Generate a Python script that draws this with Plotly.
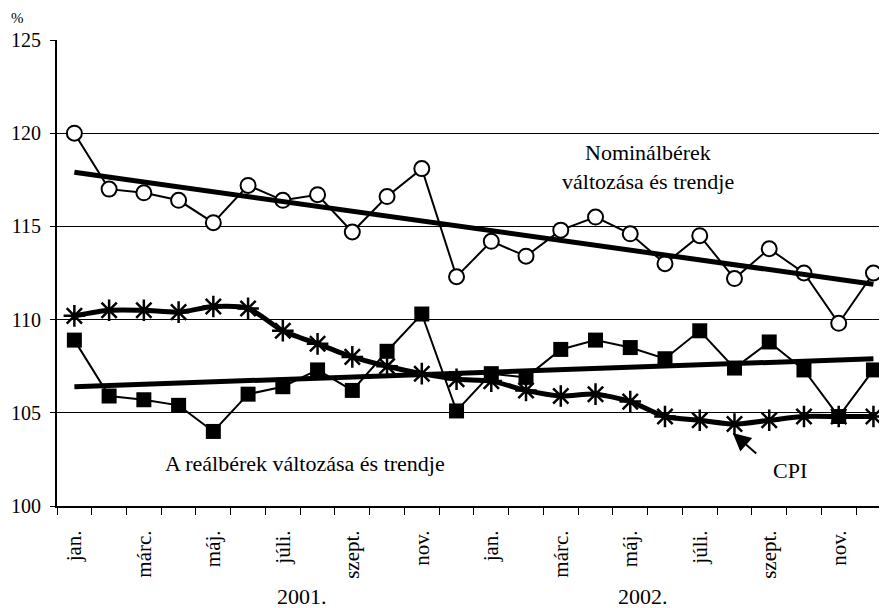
import plotly.graph_objects as go

months_idx = list(range(24))
tick_pos = [0, 2, 4, 6, 8, 10, 12, 14, 16, 18, 20, 22]
tick_labels = ["jan.", "márc.", "máj.", "júli.", "szept.", "nov.",
               "jan.", "márc.", "máj.", "júli.", "szept.", "nov."]
years = ["2001.", "2002."]

nominal = [120.0, 117.0, 116.8, 116.4, 115.2, 117.2, 116.4, 116.7, 114.7, 116.6, 118.1, 112.3,
           114.2, 113.4, 114.8, 115.5, 114.6, 113.0, 114.5, 112.2, 113.8, 112.5, 109.8, 112.5]
real = [108.9, 105.9, 105.7, 105.4, 104.0, 106.0, 106.4, 107.3, 106.2, 108.3, 110.3, 105.1,
        107.1, 106.9, 108.4, 108.9, 108.5, 107.9, 109.4, 107.4, 108.8, 107.3, 104.8, 107.3]
cpi = [110.2, 110.5, 110.5, 110.4, 110.7, 110.6, 109.4, 108.7, 108.0, 107.5, 107.1, 106.8,
       106.7, 106.2, 105.9, 106.0, 105.6, 104.8, 104.6, 104.4, 104.6, 104.8, 104.8, 104.8]
nominal_trend_ends = [117.9, 111.9]
real_trend_ends = [106.4, 107.9]
trend_x = [0, 23]

FONT = "Liberation Serif"
FS = 22
fig = go.Figure()

fig.add_trace(go.Scatter(x=[None], y=[None], yaxis="y2", showlegend=False))
fig.add_trace(go.Scatter(x=months_idx, y=nominal, mode="lines+markers",
                         line=dict(color="black", width=2),
                         marker=dict(symbol="circle", size=15, color="white",
                                     line=dict(color="black", width=2))))
fig.add_trace(go.Scatter(x=trend_x, y=nominal_trend_ends, mode="lines",
                         line=dict(color="black", width=5)))
fig.add_trace(go.Scatter(x=months_idx, y=cpi, mode="lines+markers",
                         line=dict(color="black", width=5, shape="spline", smoothing=0.7),
                         marker=dict(symbol="asterisk-open", size=18,
                                     line=dict(color="black", width=2.5))))
fig.add_trace(go.Scatter(x=months_idx, y=real, mode="lines+markers",
                         line=dict(color="black", width=2),
                         marker=dict(symbol="square", size=15, color="black")))
fig.add_trace(go.Scatter(x=trend_x, y=real_trend_ends, mode="lines",
                         line=dict(color="black", width=5)))

tf = dict(family=FONT, size=FS, color="black")
ann = []
ann.append(dict(x=16.51, y=118.98, text="Nominálbérek", showarrow=False, font=tf))
ann.append(dict(x=16.51, y=117.42, text="változása és trendje", showarrow=False, font=tf))
ann.append(dict(x=6.64, y=102.26, text="A reálbérek változása és trendje", showarrow=False, font=tf))
ann.append(dict(x=20.59, y=101.88, text="CPI", showarrow=False, font=tf))
ann.append(dict(x=18.95, y=103.92, text="", showarrow=True, ax=25, ay=22,
                arrowhead=2, arrowsize=1.8, arrowwidth=2, arrowcolor="black"))
ann.append(dict(x=6.56, y=-0.195, xref="x", yref="paper", text=years[0], showarrow=False,
                yanchor="middle", xanchor="center", font=tf))
ann.append(dict(x=16.37, y=-0.195, xref="x", yref="paper", text=years[1], showarrow=False,
                yanchor="middle", xanchor="center", font=tf))
ann.append(dict(x=-0.047, y=1.047, xref="paper", yref="paper", text="%", showarrow=False,
                yanchor="middle", xanchor="center",
                font=dict(family=FONT, size=15, color="black")))

fig.update_layout(
    width=879, height=600,
    margin=dict(l=49, r=0, t=32, b=102),
    paper_bgcolor="white", plot_bgcolor="white",
    showlegend=False,
    annotations=ann,
    xaxis=dict(range=[-0.5, 23.39], tickvals=tick_pos, ticktext=tick_labels,
               tickangle=-90, ticks="", showgrid=False, zeroline=False,
               showline=True, linecolor="black", linewidth=2, automargin=False,
               tickfont=dict(family=FONT, size=21, color="black"),
               ticklabelstandoff=14,
               minor=dict(tick0=-0.5, dtick=1, ticks="outside", ticklen=7,
                          tickcolor="black", tickwidth=1, showgrid=False)),
    yaxis=dict(range=[100, 125], tickvals=[100, 105, 110, 115, 120, 125],
               ticks="outside", ticklen=5, tickcolor="black", tickwidth=1,
               showgrid=False, zeroline=False, showline=True, linecolor="black",
               linewidth=2, automargin=False,
               tickfont=dict(family=FONT, size=20, color="black"),
               ticklabelstandoff=5),
    yaxis2=dict(range=[100, 125], overlaying="y", tickvals=[105, 110, 115, 120],
                showgrid=True, gridcolor="black", gridwidth=1, showticklabels=False,
                ticks="", zeroline=False, showline=False, automargin=False),
)

fig.write_html("out.html")
